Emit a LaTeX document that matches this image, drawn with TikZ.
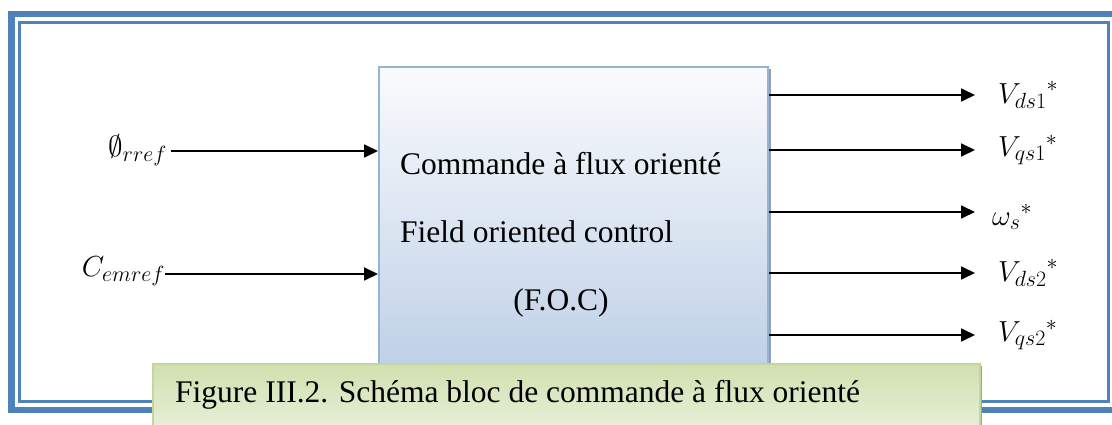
\RequirePackage{fix-cm}
\documentclass[tikz,border=0pt]{standalone}
\usepackage{fontspec}
\setmainfont{Liberation Serif}
\usetikzlibrary{arrows.meta}
\DeclareMathSizes{29}{29}{22}{17}

\definecolor{frameblue}{RGB}{79,129,189}
\definecolor{blockedge}{RGB}{149,179,215}
\definecolor{blocktop}{RGB}{250,251,253}
\definecolor{blockbottom}{RGB}{184,204,228}
\definecolor{capedge}{RGB}{196,214,158}
\definecolor{captop}{RGB}{208,224,174}
\definecolor{capbottom}{RGB}{237,243,226}
\definecolor{shadowgray}{RGB}{150,160,175}

\tikzset{
  sig/.style={line width=1.8pt, -{Triangle[length=14pt,width=13pt]}},
  blockbox/.style={draw=blockedge, line width=2pt, top color=blocktop,
    bottom color=blockbottom, minimum width=389pt, minimum height=334pt,
    inner sep=0pt, anchor=north west},
  capbox/.style={draw=capedge, line width=1.5pt, top color=captop,
    bottom color=capbottom, minimum width=827pt, minimum height=80pt,
    inner sep=0pt, anchor=north west},
  bodytext/.style={font=\fontsize{31.5}{38}\selectfont, inner sep=0pt},
  siglabel/.style={font=\fontsize{29}{35}\selectfont, inner sep=0pt}
}

\begin{document}
\begin{tikzpicture}[x=1pt,y=-1pt]
\useasboundingbox (0,0) rectangle (1112,425);
\begin{scope}
\clip (0,0) rectangle (1112,425);
\fill[white] (0,0) rectangle (1112,425);

% double page frame
\draw[frameblue, line width=6.5pt] (11.5,14) rectangle (1130,410);
\draw[frameblue, line width=3pt] (19.5,22.5) rectangle (1108.5,401.5);

% controller block with its shadow
\fill[shadowgray] (381,69) rectangle (770.5,403);
\node[blockbox] (foc) at (378,66) {};
\node[bodytext, anchor=base west] (t1) at (400,175) {Commande à flux orienté};
\node[bodytext, anchor=base west] (t2) at (400,243) {Field oriented control};
\node[bodytext, anchor=base] (t3) at (561,310) {(F.O.C)};

% inputs
\node[siglabel, anchor=east] (phi) at (167,150) {$\emptyset_{rref}$};
\node[siglabel, anchor=east] (cem) at (165,271) {$C_{emref}$};
\draw[sig] ([xshift=4pt]phi.east |- 0,151) -- (foc.west |- 0,151);
\draw[sig] (cem.east |- 0,274) -- (foc.west |- 0,274);

% outputs
\coordinate (o1) at (975,95);
\coordinate (o2) at (975,150);
\coordinate (o3) at (975,212);
\coordinate (o4) at (975,273);
\coordinate (o5) at (975,335);
\draw[sig] (o1 -| foc.east) -- (o1);
\draw[sig] (o2 -| foc.east) -- (o2);
\draw[sig] (o3 -| foc.east) -- (o3);
\draw[sig] (o4 -| foc.east) -- (o4);
\draw[sig] (o5 -| foc.east) -- (o5);
\node[siglabel, anchor=west] (v1) at ([xshift=23pt]o1) {${V_{ds1}}^{*}$};
\node[siglabel, anchor=west] (v2) at ([xshift=23pt]o2) {${V_{qs1}}^{*}$};
\node[siglabel, anchor=west] (w)  at ([xshift=17pt,yshift=-5pt]o3) {${\omega_{s}}^{*}$};
\node[siglabel, anchor=west] (v3) at ([xshift=23pt]o4) {${V_{ds2}}^{*}$};
\node[siglabel, anchor=west] (v4) at ([xshift=23pt]o5) {${V_{qs2}}^{*}$};

% caption box
\fill[shadowgray] (155,366) rectangle (982,450);
\node[capbox] (cap) at (152,363) {};
\node[bodytext, anchor=base west] (captext) at (175,402) {Figure III.2. Schéma bloc de commande à flux orienté};
\end{scope}
\end{tikzpicture}
\end{document}
